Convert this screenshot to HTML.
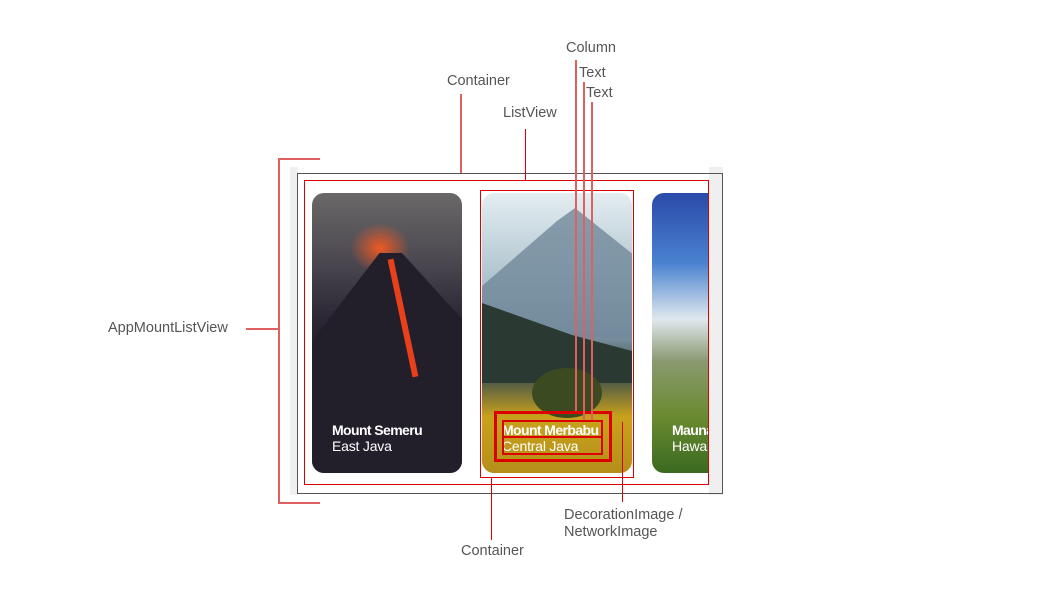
<!DOCTYPE html>
<html><head><meta charset="utf-8"><style>
body{margin:0;width:1046px;height:605px;background:#fff;position:relative;overflow:hidden;font-family:"Liberation Sans",Arial,sans-serif}
.a{position:absolute}
.lbl{position:absolute;color:#555;font-size:14.5px;white-space:nowrap}
.ln{position:absolute;background:#e06060}
.card{position:absolute;top:193px;width:150px;height:280px;border-radius:12px;overflow:hidden}
.t1{position:absolute;left:20px;top:229px;color:#fff;font-weight:bold;font-size:14px;letter-spacing:-0.6px}
.t2{position:absolute;left:20px;top:245px;color:#fff;font-size:14px;letter-spacing:-0.2px}
</style></head><body>
<div class="a" style="left:290px;top:167px;width:8px;height:328px;background:#efefef"></div>
<div class="a" style="left:709px;top:167px;width:14px;height:328px;background:#efefef"></div>
<div class="a" style="left:297px;top:173px;width:426px;height:321px;border:1px solid #555;box-sizing:border-box"></div>
<div class="a" style="left:304px;top:180px;width:405px;height:305px;border:1px solid #d00;box-sizing:border-box"></div>

<div class="card" style="left:312px;background:
radial-gradient(ellipse 14px 120px at 95px 200px,rgba(255,80,20,.8),transparent),
radial-gradient(ellipse 30px 25px at 68px 55px,rgba(255,90,30,.9),transparent),
linear-gradient(to bottom,#6a6868 0%,#4b4750 25%,#2a2633 45%,#1f1c26 80%,#2a3a2a 100%)">
<div class="a" style="left:0;top:60px;width:150px;height:220px;background:#221f2a;clip-path:polygon(0 40%,45% 0,60% 0,100% 30%,100% 100%,0 100%)"></div>
<div class="a" style="left:88px;top:65px;width:6px;height:120px;background:#e8401a;transform:rotate(-12deg)"></div>
<div class="t1">Mount Semeru</div>
<div class="t2">East Java</div></div>

<div class="card" style="left:482px;background:linear-gradient(to bottom,#e4eef2 0%,#b0c4cf 30%,#7f97a7 50%,#3a4c4e 65%,#c9a21c 80%,#b58e1a 100%)">
<div class="a" style="left:0;top:15px;width:150px;height:130px;background:#70889a;clip-path:polygon(0 60%,50% 10%,62% 0,100% 35%,100% 100%,0 100%);opacity:.8"></div>
<div class="a" style="left:0;top:110px;width:150px;height:80px;background:#2a3a33;clip-path:polygon(0 0,60% 40%,100% 60%,100% 100%,0 100%)"></div>
<div class="a" style="left:50px;top:175px;width:70px;height:50px;border-radius:50%;background:#3b4a20"></div>
<div class="t1">Mount Merbabu</div>
<div class="t2">Central Java</div></div>

<div class="card" style="left:652px;width:56px;border-radius:12px 0 0 12px;background:linear-gradient(to bottom,#2a4aa8 0%,#4a82d0 25%,#dfe8ee 45%,#8a9a70 60%,#6a8a30 80%,#3a6a20 100%)">
<div class="t1">Mauna</div>
<div class="t2">Hawaii</div></div>

<div class="a" style="left:480px;top:190px;width:154px;height:288px;border:1px solid #d00;box-sizing:border-box"></div>
<div class="a" style="left:494px;top:411px;width:118px;height:51px;border:3px solid #d00;box-sizing:border-box"></div>
<div class="a" style="left:502px;top:420px;width:101px;height:18px;border:2px solid #d00;box-sizing:border-box"></div>
<div class="a" style="left:502px;top:436px;width:101px;height:19px;border:2px solid #d00;box-sizing:border-box"></div>

<div class="ln" style="left:278px;top:159px;width:2px;height:345px"></div>
<div class="ln" style="left:278px;top:158px;width:42px;height:2px"></div>
<div class="ln" style="left:278px;top:502px;width:42px;height:2px"></div>
<div class="ln" style="left:246px;top:328px;width:33px;height:2px"></div>
<div class="ln" style="left:460px;top:94px;width:2px;height:79px"></div>
<div class="a" style="left:525px;top:129px;width:1px;height:51px;background:#d00"></div>
<div class="ln" style="left:575px;top:60px;width:2px;height:351px"></div>
<div class="ln" style="left:583px;top:82px;width:2px;height:338px"></div>
<div class="ln" style="left:591px;top:102px;width:2px;height:318px"></div>
<div class="a" style="left:491px;top:478px;width:1px;height:62px;background:#d00"></div>
<div class="a" style="left:622px;top:422px;width:1px;height:80px;background:#d00"></div>

<div class="lbl" style="left:566px;top:40px">Column</div>
<div class="lbl" style="left:579px;top:65px">Text</div>
<div class="lbl" style="left:586px;top:85px">Text</div>
<div class="lbl" style="left:447px;top:73px">Container</div>
<div class="lbl" style="left:503px;top:105px">ListView</div>
<div class="lbl" style="left:108px;top:320px">AppMountListView</div>
<div class="lbl" style="left:461px;top:543px">Container</div>
<div class="lbl" style="left:564px;top:507px;line-height:17px">DecorationImage /<br>NetworkImage</div>
</body></html>
